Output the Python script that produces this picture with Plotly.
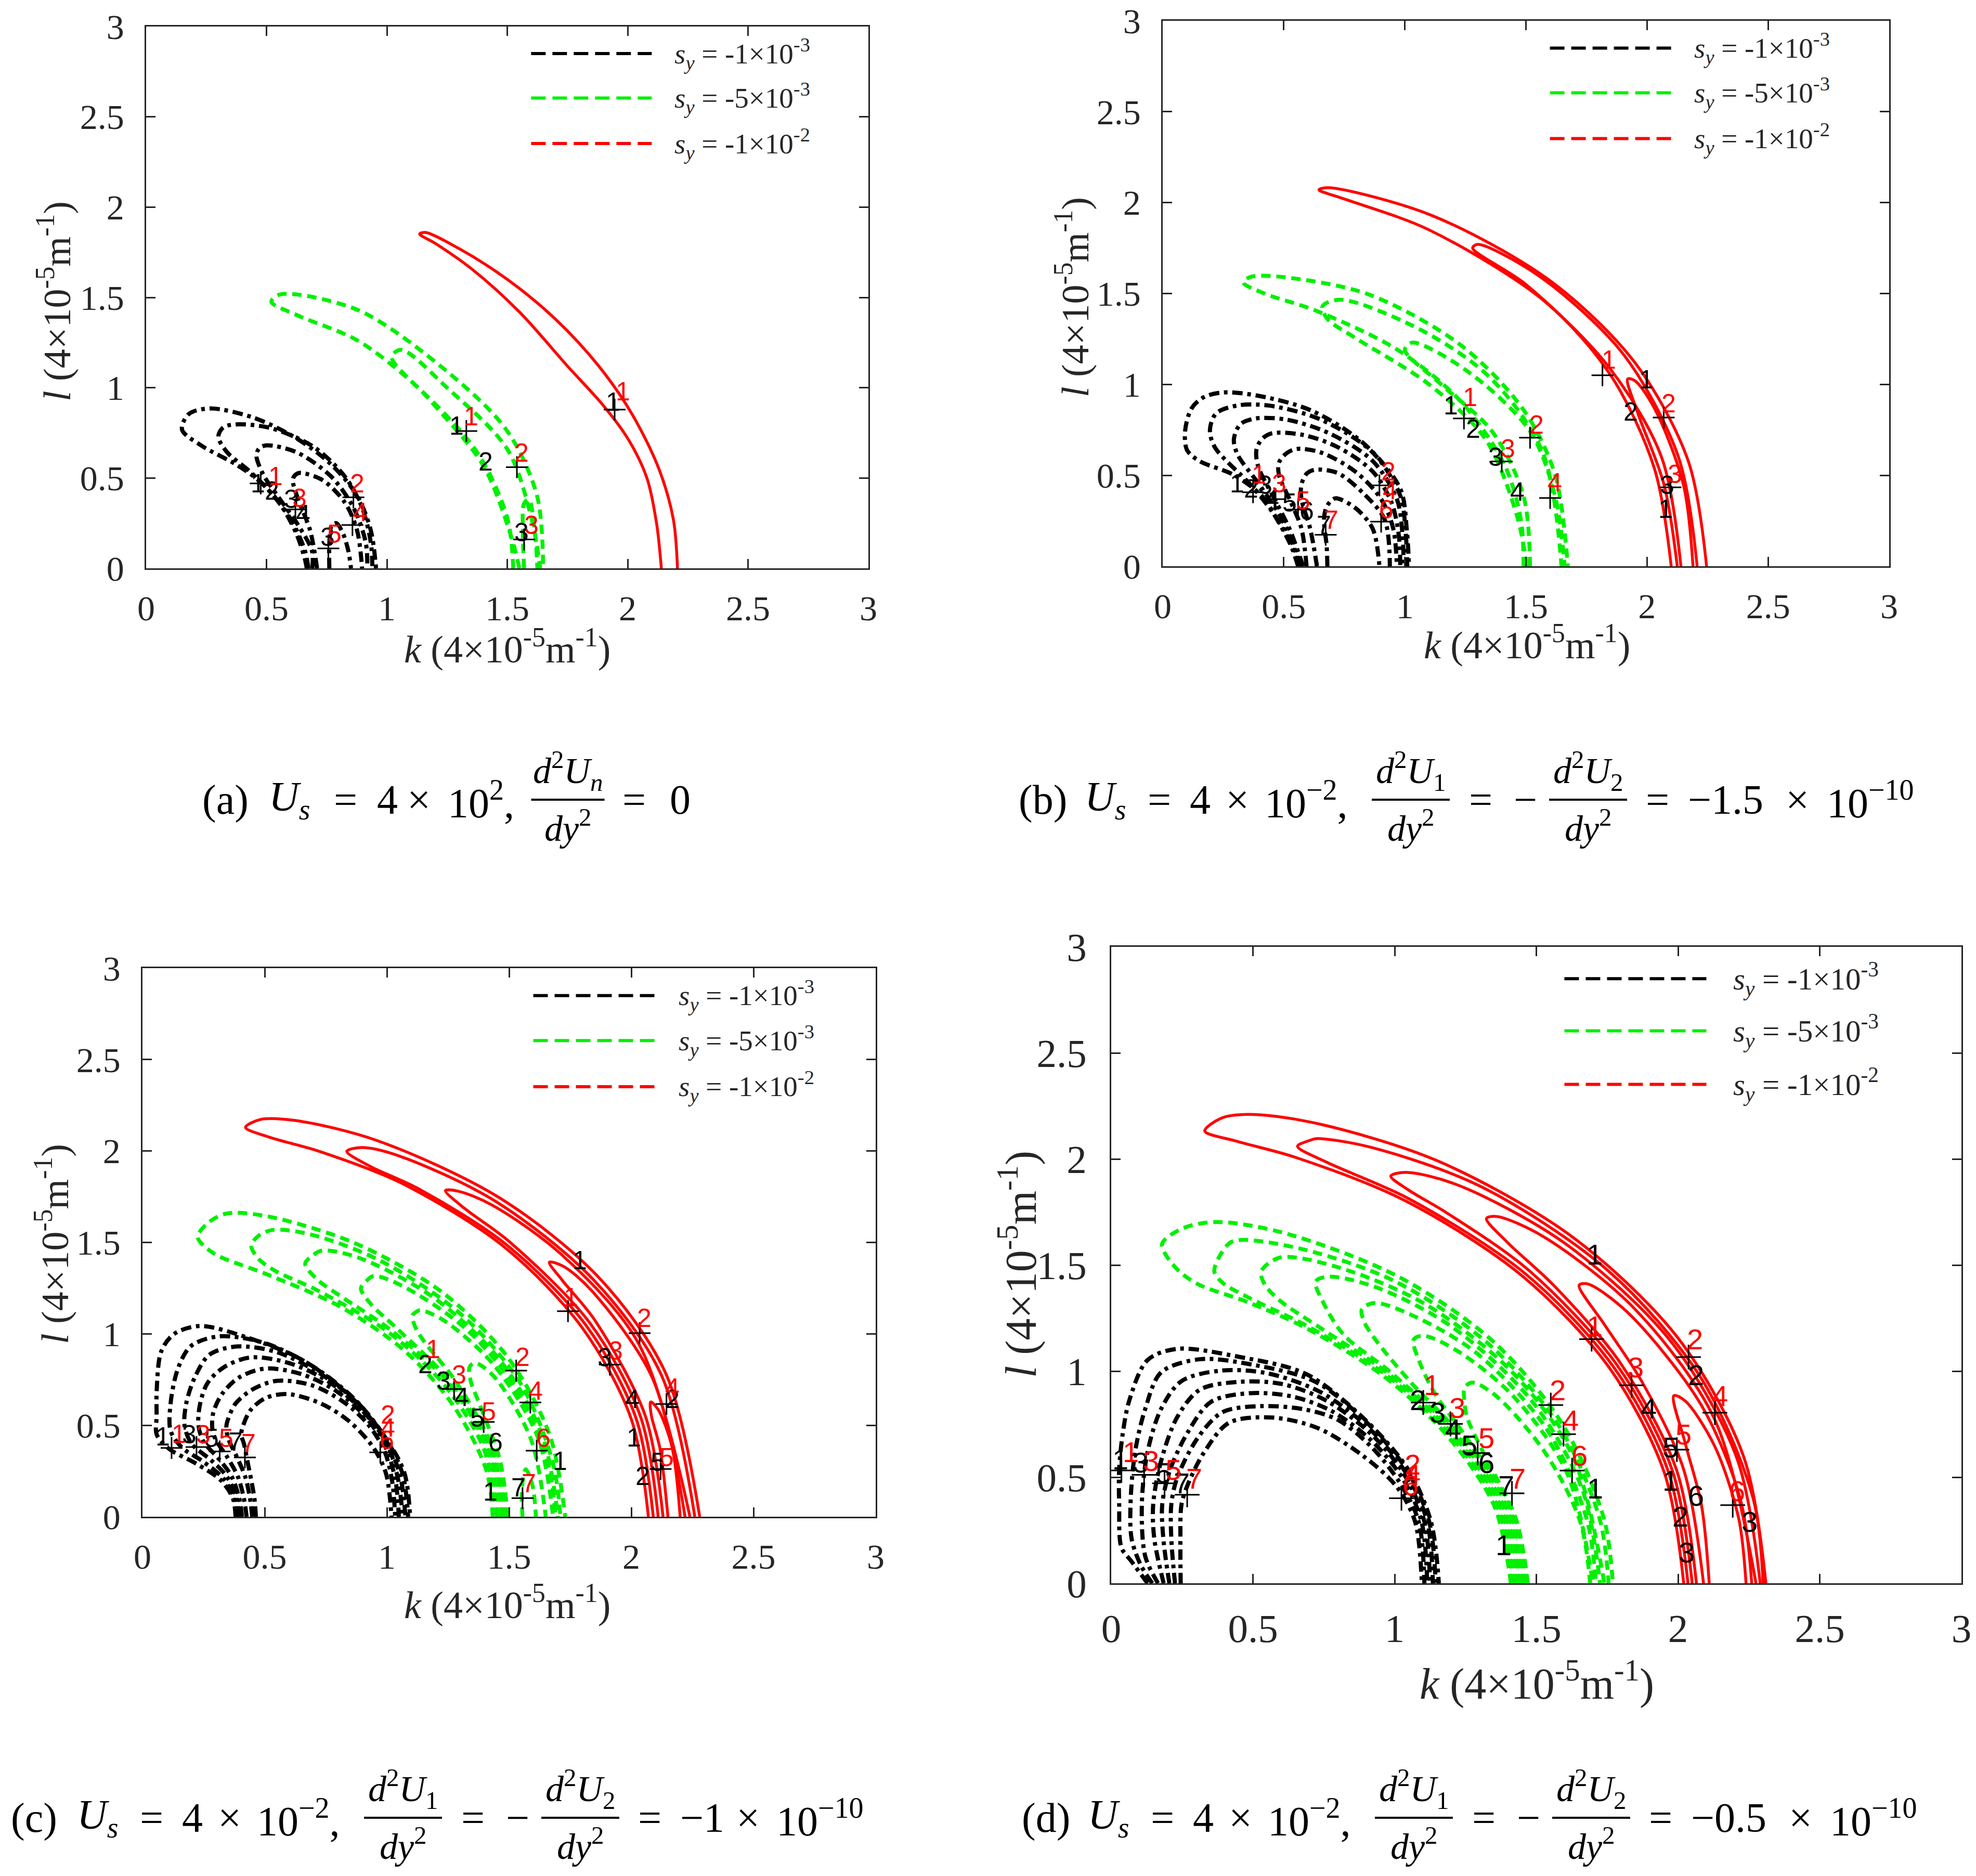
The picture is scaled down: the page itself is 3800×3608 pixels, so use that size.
import numpy as np
import plotly.graph_objects as go

W, H = 3800, 3608

# ---------------- data ----------------
# Panel (a): cartesian loops (k, l)
a_black_k = [
    [0.667, 0.66, 0.624, 0.552, 0.465, 0.372, 0.228, 0.149, 0.177, 0.264, 0.444, 0.624, 0.768, 0.876, 0.933, 0.955],
    [0.674, 0.66, 0.602, 0.516, 0.43, 0.336, 0.30, 0.32, 0.372, 0.516, 0.696, 0.825, 0.897, 0.933, 0.94],
    [0.69, 0.689, 0.631, 0.545, 0.487, 0.458, 0.47, 0.501, 0.624, 0.768, 0.861, 0.912, 0.919],
    [0.71, 0.681, 0.631, 0.609, 0.618, 0.638, 0.732, 0.825, 0.876, 0.897],
    [0.761, 0.761, 0.77, 0.79, 0.818, 0.84, 0.851],
]
a_black_l = [
    [0, 0.048, 0.192, 0.365, 0.489, 0.576, 0.681, 0.768, 0.854, 0.885, 0.835, 0.72, 0.576, 0.403, 0.211, 0],
    [0, 0.096, 0.269, 0.422, 0.537, 0.643, 0.729, 0.78, 0.797, 0.777, 0.672, 0.509, 0.336, 0.144, 0],
    [0, 0.096, 0.24, 0.403, 0.518, 0.624, 0.665, 0.681, 0.643, 0.509, 0.336, 0.144, 0],
    [0, 0.211, 0.384, 0.489, 0.515, 0.528, 0.489, 0.365, 0.211, 0],
    [0, 0.134, 0.235, 0.25, 0.192, 0.096, 0],
]
a_green_k = [
    [1.525, 1.5, 1.376, 1.13, 0.88, 0.63, 0.52, 0.558, 0.88, 1.25, 1.5, 1.624, 1.649],
    [1.55, 1.52, 1.4, 1.18, 1.02, 1.06, 1.25, 1.5, 1.6, 1.637],
    [1.57, 1.565, 1.57, 1.59, 1.615, 1.625],
]
a_green_l = [
    [0, 0.28, 0.64, 1.0, 1.26, 1.40, 1.476, 1.517, 1.43, 1.09, 0.76, 0.4, 0],
    [0, 0.16, 0.57, 0.93, 1.17, 1.21, 1.0, 0.66, 0.28, 0],
    [0, 0.2, 0.36, 0.38, 0.2, 0],
]
a_red_k = [[2.14, 2.12, 2.08, 2.0, 1.9, 1.75, 1.55, 1.35, 1.2, 1.136, 1.16, 1.3, 1.5, 1.7, 1.88, 2.02, 2.13, 2.19, 2.207]]
a_red_l = [[0, 0.25, 0.5, 0.72, 0.9, 1.12, 1.42, 1.66, 1.8, 1.851, 1.86, 1.77, 1.6, 1.38, 1.12, 0.85, 0.55, 0.27, 0]]

# Panel (b)
b_black_k = [
    [0.559, 0.53, 0.473, 0.408, 0.294, 0.151, 0.10, 0.093, 0.12, 0.17, 0.25, 0.401, 0.616, 0.831, 0.981, 1.008, 1.017],
    [0.566, 0.53, 0.451, 0.365, 0.215, 0.195, 0.22, 0.308, 0.437, 0.652, 0.867, 0.981, 1.003, 1.01],
    [0.573, 0.494, 0.401, 0.308, 0.294, 0.32, 0.38, 0.509, 0.688, 0.867, 0.967, 0.99, 0.995],
    [0.58, 0.523, 0.466, 0.394, 0.387, 0.41, 0.451, 0.58, 0.723, 0.867, 0.945, 0.975, 0.981],
    [0.594, 0.573, 0.53, 0.48, 0.48, 0.51, 0.552, 0.652, 0.795, 0.902, 0.952, 0.967],
    [0.637, 0.609, 0.573, 0.573, 0.595, 0.63, 0.723, 0.831, 0.917, 0.938],
    [0.68, 0.677, 0.666, 0.675, 0.695, 0.716, 0.795, 0.867, 0.895],
]
b_black_l = [
    [0, 0.112, 0.255, 0.388, 0.502, 0.579, 0.64, 0.75, 0.87, 0.93, 0.956, 0.936, 0.855, 0.674, 0.426, 0.2, 0],
    [0, 0.131, 0.302, 0.445, 0.655, 0.75, 0.84, 0.884, 0.884, 0.807, 0.626, 0.388, 0.19, 0],
    [0, 0.255, 0.445, 0.617, 0.70, 0.78, 0.812, 0.807, 0.731, 0.579, 0.369, 0.18, 0],
    [0, 0.207, 0.359, 0.55, 0.64, 0.70, 0.731, 0.722, 0.655, 0.521, 0.35, 0.17, 0],
    [0, 0.207, 0.35, 0.502, 0.57, 0.62, 0.645, 0.626, 0.521, 0.369, 0.207, 0],
    [0, 0.207, 0.369, 0.45, 0.51, 0.531, 0.512, 0.398, 0.255, 0],
    [0, 0.112, 0.255, 0.321, 0.36, 0.374, 0.321, 0.207, 0],
]
b_green_k = [
    [1.49, 1.48, 1.413, 1.23, 0.97, 0.632, 0.42, 0.333, 0.36, 0.45, 0.84, 1.23, 1.49, 1.62, 1.673],
    [1.504, 1.465, 1.335, 1.1, 0.79, 0.68, 0.66, 0.736, 1.08, 1.36, 1.57, 1.647],
    [1.517, 1.49, 1.36, 1.15, 1.0, 1.03, 1.257, 1.517, 1.62, 1.66],
]
b_green_l = [
    [0, 0.25, 0.553, 0.908, 1.19, 1.406, 1.50, 1.56, 1.59, 1.596, 1.5, 1.217, 0.86, 0.505, 0],
    [0, 0.268, 0.695, 1.0, 1.26, 1.36, 1.43, 1.466, 1.29, 1.027, 0.624, 0],
    [0, 0.387, 0.742, 1.0, 1.19, 1.23, 1.074, 0.742, 0.387, 0],
]
b_red_k = [
    [2.1, 2.03, 1.85, 1.58, 1.1, 0.75, 0.645, 0.684, 1.11, 1.6, 1.95, 2.17, 2.246],
    [2.14, 2.06, 1.84, 1.5, 1.28, 1.3, 1.55, 1.9, 2.13, 2.207],
    [2.125, 2.07, 1.96, 1.92, 1.95, 2.03, 2.15, 2.19],
]
b_red_l = [
    [0, 0.54, 1.05, 1.454, 1.85, 2.02, 2.07, 2.082, 1.93, 1.57, 1.12, 0.58, 0],
    [0, 0.6, 1.1, 1.55, 1.75, 1.77, 1.6, 1.17, 0.6, 0],
    [0, 0.45, 0.85, 1.03, 1.02, 0.87, 0.45, 0],
]

# Panel (c)
c_black_k = [
    [0.381, 0.37, 0.32, 0.22, 0.11, 0.058, 0.058, 0.058, 0.077, 0.13, 0.236, 0.426, 0.654, 0.844, 0.996, 1.072, 1.095],
    [0.388, 0.376, 0.33, 0.25, 0.16, 0.115, 0.115, 0.145, 0.198, 0.312, 0.5, 0.7, 0.87, 1.0, 1.065, 1.087],
    [0.396, 0.385, 0.345, 0.28, 0.2, 0.172, 0.179, 0.214, 0.274, 0.388, 0.55, 0.73, 0.89, 1.0, 1.055, 1.076],
    [0.407, 0.396, 0.365, 0.31, 0.25, 0.229, 0.236, 0.267, 0.335, 0.441, 0.6, 0.76, 0.9, 1.0, 1.045, 1.065],
    [0.426, 0.415, 0.39, 0.345, 0.30, 0.286, 0.29, 0.328, 0.396, 0.502, 0.65, 0.79, 0.91, 0.995, 1.035, 1.049],
    [0.449, 0.44, 0.42, 0.385, 0.35, 0.343, 0.35, 0.381, 0.449, 0.548, 0.69, 0.82, 0.92, 0.99, 1.022, 1.034],
    [0.464, 0.458, 0.445, 0.43, 0.415, 0.404, 0.411, 0.441, 0.502, 0.593, 0.73, 0.844, 0.943, 0.996, 1.019],
]
c_black_l = [
    [0, 0.1, 0.2, 0.29, 0.37, 0.45, 0.55, 0.686, 0.905, 1.0, 1.043, 0.981, 0.857, 0.667, 0.429, 0.238, 0],
    [0, 0.1, 0.21, 0.3, 0.38, 0.47, 0.619, 0.81, 0.933, 0.986, 0.95, 0.82, 0.64, 0.42, 0.23, 0],
    [0, 0.1, 0.22, 0.31, 0.4, 0.5, 0.619, 0.762, 0.886, 0.931, 0.9, 0.78, 0.61, 0.41, 0.22, 0],
    [0, 0.1, 0.22, 0.32, 0.41, 0.5, 0.619, 0.733, 0.819, 0.871, 0.84, 0.74, 0.58, 0.4, 0.21, 0],
    [0, 0.1, 0.22, 0.33, 0.42, 0.48, 0.571, 0.676, 0.762, 0.81, 0.78, 0.69, 0.55, 0.38, 0.2, 0],
    [0, 0.1, 0.22, 0.33, 0.43, 0.49, 0.533, 0.619, 0.695, 0.743, 0.72, 0.63, 0.51, 0.36, 0.19, 0],
    [0, 0.1, 0.2, 0.3, 0.4, 0.448, 0.495, 0.581, 0.648, 0.671, 0.619, 0.524, 0.381, 0.238, 0],
]
# polar loops: angle (deg) and radius
c_green_t = [
    [0, 10, 25, 40, 55, 69, 78.6, 81.6, 80.5, 78.3, 73, 60, 45, 30, 15, 0],
    [0, 15, 30, 45, 60, 68, 71.5, 73.3, 72.8, 71.2, 66, 55, 40, 25, 10, 0],
    [0, 15, 30, 45, 55, 61, 64.3, 64, 63.2, 58, 45, 30, 15, 0],
    [0, 15, 30, 45, 51, 54.4, 54.6, 54.3, 50, 38, 25, 10, 0],
    [0, 15, 30, 40, 43, 44.9, 45, 44.8, 41, 30, 15, 0],
    [0, 12, 24, 29, 31.5, 31.7, 28, 15, 0],
    [0, 5, 8.6, 9.4, 6, 0],
]
c_green_r = [
    [1.433, 1.43, 1.41, 1.405, 1.405, 1.42, 1.47, 1.546, 1.63, 1.693, 1.72, 1.73, 1.735, 1.73, 1.725, 1.73],
    [1.45, 1.445, 1.43, 1.425, 1.43, 1.45, 1.49, 1.549, 1.61, 1.657, 1.69, 1.705, 1.71, 1.71, 1.705, 1.71],
    [1.465, 1.46, 1.45, 1.44, 1.45, 1.48, 1.535, 1.59, 1.631, 1.67, 1.69, 1.695, 1.695, 1.70],
    [1.475, 1.47, 1.46, 1.465, 1.49, 1.535, 1.58, 1.621, 1.65, 1.675, 1.68, 1.685, 1.69],
    [1.485, 1.48, 1.48, 1.5, 1.525, 1.56, 1.585, 1.603, 1.635, 1.66, 1.675, 1.68],
    [1.495, 1.495, 1.51, 1.535, 1.57, 1.6, 1.63, 1.645, 1.65],
    [1.555, 1.558, 1.578, 1.59, 1.605, 1.61],
]
c_red_t = [
    [0, 15, 30, 45, 60, 70, 76, 78.8, 77.5, 74, 65, 50, 35, 20, 0],
    [0, 15, 30, 45, 58, 64, 67.3, 66, 62, 50, 35, 20, 0],
    [0, 15, 30, 45, 52, 55.2, 54, 50, 40, 25, 0],
    [0, 15, 30, 37, 39.9, 38.5, 34, 20, 0],
    [0, 10, 15, 16.8, 15.5, 10, 0],
]
c_red_r = [
    [2.07, 2.07, 2.075, 2.09, 2.11, 2.125, 2.14, 2.17, 2.225, 2.255, 2.27, 2.275, 2.28, 2.28, 2.28],
    [2.09, 2.09, 2.095, 2.105, 2.12, 2.13, 2.166, 2.21, 2.235, 2.25, 2.255, 2.26, 2.26],
    [2.11, 2.11, 2.115, 2.125, 2.14, 2.172, 2.2, 2.225, 2.235, 2.24, 2.24],
    [2.13, 2.13, 2.14, 2.15, 2.17, 2.2, 2.215, 2.22, 2.22],
    [2.15, 2.15, 2.155, 2.172, 2.19, 2.2, 2.2],
]

# Panel (d)
d_black_k = [
    [0.128, 0.072, 0.036, 0.028, 0.028, 0.04, 0.064, 0.128, 0.232, 0.448, 0.688, 0.888, 1.048, 1.128, 1.156],
    [0.145, 0.104, 0.072, 0.068, 0.084, 0.12, 0.176, 0.312, 0.5, 0.72, 0.9, 1.045, 1.122, 1.145],
    [0.165, 0.12, 0.108, 0.128, 0.176, 0.248, 0.384, 0.55, 0.74, 0.91, 1.04, 1.115, 1.135],
    [0.185, 0.152, 0.148, 0.176, 0.232, 0.312, 0.448, 0.6, 0.76, 0.92, 1.035, 1.105, 1.125],
    [0.205, 0.184, 0.18, 0.208, 0.272, 0.352, 0.488, 0.64, 0.78, 0.92, 1.03, 1.095, 1.115],
    [0.225, 0.212, 0.212, 0.232, 0.304, 0.392, 0.528, 0.68, 0.80, 0.92, 1.02, 1.085, 1.105],
    [0.245, 0.244, 0.248, 0.272, 0.328, 0.416, 0.568, 0.728, 0.888, 1.008, 1.072, 1.096],
]
d_black_l = [
    [0, 0.102, 0.168, 0.372, 0.536, 0.7, 0.863, 1.052, 1.105, 1.068, 0.986, 0.781, 0.536, 0.291, 0],
    [0, 0.086, 0.209, 0.372, 0.618, 0.822, 0.994, 1.056, 1.03, 0.95, 0.76, 0.53, 0.29, 0],
    [0, 0.127, 0.372, 0.618, 0.822, 0.953, 1.002, 0.99, 0.9, 0.73, 0.52, 0.29, 0],
    [0, 0.209, 0.372, 0.577, 0.781, 0.912, 0.949, 0.94, 0.86, 0.70, 0.51, 0.29, 0],
    [0, 0.209, 0.372, 0.536, 0.716, 0.855, 0.896, 0.88, 0.81, 0.67, 0.49, 0.29, 0],
    [0, 0.209, 0.372, 0.495, 0.683, 0.806, 0.835, 0.82, 0.77, 0.64, 0.47, 0.29, 0],
    [0, 0.209, 0.372, 0.471, 0.618, 0.757, 0.781, 0.732, 0.601, 0.454, 0.291, 0],
]
d_green_t = [
    [0, 15, 30, 45, 60, 70, 78, 81.5, 83.6, 81.5, 77.8, 70, 55, 40, 25, 10, 0],
    [0, 15, 30, 45, 60, 70, 74.5, 76.1, 76, 75.1, 68, 55, 40, 25, 10, 0],
    [0, 15, 30, 45, 58, 66, 69, 70.2, 68.8, 62, 50, 35, 20, 0],
    [0, 15, 30, 45, 55, 60.5, 63.1, 62, 56, 45, 30, 15, 0],
    [0, 15, 30, 42, 50, 54, 55.6, 54.9, 50, 40, 25, 10, 0],
    [0, 15, 30, 38, 44, 47.1, 46.7, 42, 32, 18, 0],
    [0, 12, 25, 32, 35, 36.5, 36.6, 33, 22, 10, 0],
]
d_green_r = [
    [1.41, 1.40, 1.375, 1.37, 1.385, 1.41, 1.445, 1.51, 1.609, 1.69, 1.742, 1.76, 1.765, 1.765, 1.76, 1.765, 1.77],
    [1.42, 1.41, 1.385, 1.38, 1.395, 1.43, 1.47, 1.514, 1.6, 1.668, 1.71, 1.74, 1.745, 1.745, 1.75, 1.755],
    [1.43, 1.42, 1.395, 1.39, 1.41, 1.46, 1.51, 1.563, 1.647, 1.69, 1.72, 1.73, 1.735, 1.74],
    [1.44, 1.43, 1.405, 1.40, 1.43, 1.52, 1.595, 1.637, 1.68, 1.705, 1.715, 1.72, 1.725],
    [1.45, 1.44, 1.415, 1.42, 1.47, 1.52, 1.565, 1.615, 1.65, 1.685, 1.70, 1.705, 1.71],
    [1.46, 1.45, 1.43, 1.45, 1.51, 1.567, 1.604, 1.64, 1.67, 1.69, 1.70],
    [1.47, 1.46, 1.45, 1.48, 1.52, 1.551, 1.587, 1.62, 1.65, 1.68, 1.69],
]
d_red_t = [
    [0, 15, 30, 45, 60, 72, 78, 81.2, 80, 77.7, 72, 60, 45, 30, 15, 0],
    [0, 15, 30, 45, 60, 69, 72.3, 71.5, 70.9, 66, 55, 40, 25, 10, 0],
    [0, 15, 30, 45, 56, 60.5, 62.8, 61.8, 57, 45, 30, 15, 0],
    [0, 15, 30, 42, 49, 52.4, 51.8, 47, 35, 20, 0],
    [0, 15, 27, 35, 40.4, 40, 35, 22, 10, 0],
    [0, 10, 18, 24, 23, 17, 8, 0],
]
d_red_r = [
    [2.02, 2.02, 2.03, 2.05, 2.08, 2.11, 2.13, 2.157, 2.225, 2.262, 2.285, 2.3, 2.305, 2.31, 2.31, 2.31],
    [2.035, 2.035, 2.045, 2.065, 2.095, 2.125, 2.162, 2.2, 2.218, 2.25, 2.28, 2.29, 2.295, 2.3, 2.30],
    [2.05, 2.05, 2.06, 2.085, 2.11, 2.13, 2.158, 2.198, 2.24, 2.265, 2.28, 2.285, 2.29],
    [2.065, 2.065, 2.075, 2.1, 2.13, 2.17, 2.2, 2.235, 2.255, 2.265, 2.275],
    [2.09, 2.09, 2.1, 2.125, 2.168, 2.195, 2.225, 2.245, 2.255, 2.26],
    [2.11, 2.115, 2.13, 2.173, 2.2, 2.225, 2.235, 2.24],
]

# contour labels: text, k, l
a_lab_black = (["1", "2", "3", "4", "3", "1", "2", "3", "1"],
               [0.465, 0.523, 0.602, 0.653, 0.753, 1.29, 1.41, 1.56, 1.94],
               [0.47, 0.43, 0.384, 0.298, 0.173, 0.79, 0.59, 0.2, 0.92])
a_lab_red = (["1", "2", "3", "4", "5", "1", "2", "3", "1"],
             [0.537, 0.876, 0.638, 0.89, 0.782, 1.35, 1.56, 1.6, 1.98],
             [0.51, 0.47, 0.39, 0.31, 0.19, 0.84, 0.64, 0.24, 0.98])
a_plus = ([0.476, 0.861, 0.62, 0.857, 0.757, 1.33, 1.54, 1.57, 1.946],
          [0.47, 0.393, 0.326, 0.24, 0.11, 0.76, 0.56, 0.16, 0.879])

b_lab_black = (["1", "2", "3", "4", "5", "6", "7", "1", "2", "3", "4", "1", "2", "3", "1"],
               [0.308, 0.365, 0.423, 0.451, 0.523, 0.594, 0.666, 1.19, 1.283, 1.374, 1.465, 1.998, 1.933, 2.084, 2.077],
               [0.455, 0.426, 0.445, 0.369, 0.35, 0.302, 0.226, 0.885, 0.754, 0.6, 0.41, 1.027, 0.849, 0.446, 0.315])
b_lab_red = (["1", "3", "5", "7", "2", "4", "6", "1", "2", "3", "4", "1", "2", "3"],
             [0.398, 0.48, 0.58, 0.695, 0.931, 0.938, 0.924, 1.27, 1.543, 1.426, 1.62, 1.842, 2.09, 2.115],
             [0.502, 0.455, 0.359, 0.255, 0.521, 0.417, 0.312, 0.93, 0.778, 0.647, 0.46, 1.134, 0.896, 0.505])
b_plus = ([0.373, 0.466, 0.559, 0.673, 0.902, 0.895, 1.244, 1.517, 1.4, 1.6, 1.816, 2.069, 2.097],
          [0.407, 0.369, 0.312, 0.173, 0.245, 0.445, 0.813, 0.707, 0.576, 0.375, 1.05, 0.818, 0.434])

c_lab_black = (["1", "3", "5", "7", "2", "3", "4", "5", "6", "1", "1", "7", "1", "3", "4", "2", "1", "5", "2"],
               [0.084, 0.191, 0.282, 0.38, 1.158, 1.232, 1.306, 1.37, 1.444, 1.708, 1.423, 1.539, 1.79, 1.892, 2.005, 2.169, 2.01, 2.108, 2.046],
               [0.438, 0.448, 0.429, 0.41, 0.833, 0.743, 0.653, 0.54, 0.406, 0.304, 0.136, 0.158, 1.402, 0.87, 0.642, 0.642, 0.431, 0.299, 0.223])
c_lab_red = (["1", "3", "5", "7", "2", "4", "6", "1", "2", "3", "4", "5", "6", "7", "1", "2", "3", "4", "5"],
             [0.149, 0.248, 0.343, 0.434, 1.004, 1.004, 1.0, 1.19, 1.555, 1.296, 1.608, 1.417, 1.64, 1.581, 1.753, 2.054, 1.936, 2.169, 2.144],
             [0.452, 0.448, 0.429, 0.4, 0.557, 0.486, 0.419, 0.917, 0.872, 0.776, 0.687, 0.574, 0.428, 0.181, 1.2, 1.085, 0.908, 0.705, 0.325])
c_plus = ([0.119, 0.221, 0.316, 0.419, 0.973, 1.529, 1.275, 1.587, 1.396, 1.613, 1.555, 1.741, 2.034, 1.912, 2.144, 2.12],
          [0.376, 0.381, 0.357, 0.324, 0.352, 0.799, 0.698, 0.625, 0.518, 0.361, 0.102, 1.124, 1.004, 0.832, 0.616, 0.261])

d_lab_black = (["1", "3", "5", "7", "2", "3", "4", "5", "6", "7", "1", "1", "1", "2", "4", "5", "1", "6", "2", "3", "3"],
               [0.032, 0.104, 0.184, 0.248, 1.081, 1.152, 1.207, 1.263, 1.323, 1.394, 1.707, 1.384, 1.706, 2.063, 1.896, 1.974, 1.974, 2.063, 2.008, 2.253, 2.03],
               [0.585, 0.569, 0.52, 0.471, 0.864, 0.804, 0.727, 0.65, 0.567, 0.46, 0.448, 0.181, 1.551, 0.981, 0.824, 0.642, 0.485, 0.412, 0.315, 0.291, 0.145])
d_lab_red = (["1", "3", "5", "7", "2", "4", "6", "1", "3", "5", "7", "2", "4", "6", "1", "2", "3", "4", "5", "6"],
             [0.068, 0.14, 0.22, 0.292, 1.064, 1.064, 1.056, 1.131, 1.222, 1.323, 1.434, 1.576, 1.621, 1.652, 1.706, 2.059, 1.851, 2.148, 2.019, 2.208],
             [0.618, 0.577, 0.536, 0.495, 0.561, 0.511, 0.462, 0.935, 0.828, 0.686, 0.495, 0.911, 0.769, 0.602, 1.212, 1.151, 1.018, 0.884, 0.703, 0.436])
d_plus = ([0.036, 0.116, 0.188, 0.268, 1.024, 1.101, 1.197, 1.293, 1.414, 1.551, 1.596, 1.626, 1.695, 2.037, 1.836, 2.13, 1.996, 2.193],
          [0.532, 0.511, 0.471, 0.417, 0.401, 0.852, 0.751, 0.614, 0.424, 0.84, 0.703, 0.531, 1.151, 1.066, 0.933, 0.804, 0.63, 0.368])

legend_labels = ["<i>s</i><sub><i>y</i></sub> = -1×10<sup>-3</sup>",
                 "<i>s</i><sub><i>y</i></sub> = -5×10<sup>-3</sup>",
                 "<i>s</i><sub><i>y</i></sub> = -1×10<sup>-2</sup>"]
tick_vals = [0, 0.5, 1, 1.5, 2, 2.5, 3]
tick_text = ["0", "0.5", "1", "1.5", "2", "2.5", "3"]

# ---------------- styles / layout ----------------
BLACK = "#000000"
GREEN = "#00f000"
RED = "#ff0000"
AXC = "#262626"
SERIF = "Liberation Serif"
SANS = "Liberation Sans"

STY = {
    "black": dict(color=BLACK, width=8, dash="20px,9px,7px,9px"),
    "green": dict(color=GREEN, width=7.5, dash="18px,11px"),
    "red": dict(color=RED, width=5.5, dash="solid"),
}


def px2x(p):
    return p / W


def px2y(p):
    return 1 - p / H


panels = [
    dict(name="a", x=(281, 1670), y=(51, 1093), fs=1.0,
         black=(a_black_k, a_black_l), green=(a_green_k, a_green_l), red=(a_red_k, a_red_l),
         polar_green=None, polar_red=None,
         lab_b=a_lab_black, lab_r=a_lab_red, plus=a_plus,
         xt=(976, 1244), yt=(104, 580)),
    dict(name="b", x=(2236, 3633), y=(40, 1089), fs=1.0,
         black=(b_black_k, b_black_l), green=(b_green_k, b_green_l), red=(b_red_k, b_red_l),
         polar_green=None, polar_red=None,
         lab_b=b_lab_black, lab_r=b_lab_red, plus=b_plus,
         xt=(2936, 1235), yt=(2062, 572)),
    dict(name="c", x=(274, 1684), y=(1862, 2917), fs=1.0,
         black=(c_black_k, c_black_l), green=None, red=None,
         polar_green=(c_green_t, c_green_r), polar_red=(c_red_t, c_red_r),
         lab_b=c_lab_black, lab_r=c_lab_red, plus=c_plus,
         xt=(976, 3081), yt=(100, 2393)),
    dict(name="d", x=(2137, 3772), y=(1821, 3045), fs=1.13,
         black=(d_black_k, d_black_l), green=None, red=None,
         polar_green=(d_green_t, d_green_r), polar_red=(d_red_t, d_red_r),
         lab_b=d_lab_black, lab_r=d_lab_red, plus=d_plus,
         xt=(2955, 3233), yt=(1958, 2432)),
]

fig = go.Figure()
annotations = []
shapes = []


def add_loops(ks, ls, style, xa, ya):
    for k, l in zip(ks, ls):
        fig.add_trace(go.Scatter(x=k, y=l, mode="lines", line=dict(shape="spline", smoothing=0.9, **STY[style]),
                                 xaxis=xa, yaxis=ya, showlegend=False, hoverinfo="skip"))


def add_polar(ts, rs, style, xa, ya):
    ks, ls = [], []
    for t, r in zip(ts, rs):
        th = np.radians(np.array(t, dtype=float))
        rr = np.array(r, dtype=float)
        ks.append(rr * np.cos(th))
        ls.append(rr * np.sin(th))
    add_loops(ks, ls, style, xa, ya)


for i, p in enumerate(panels):
    n = "" if i == 0 else str(i + 1)
    xa, ya = "x" + n, "y" + n
    fs = p["fs"]
    tickfont = dict(family=SERIF, size=round(68 * fs), color=AXC)
    common = dict(range=[0, 3], tickvals=tick_vals, ticktext=tick_text, showline=True, linecolor=AXC,
                  linewidth=2.5, mirror="ticks", ticks="inside", ticklen=18, tickwidth=2.5, tickcolor=AXC,
                  showgrid=False, zeroline=False, tickfont=tickfont, fixedrange=True,
                  ticklabeloverflow="allow")
    fig.layout["xaxis" + n] = dict(domain=[px2x(p["x"][0]), px2x(p["x"][1])], anchor=ya,
                                   ticklabelstandoff=int(16 * fs), **common)
    fig.layout["yaxis" + n] = dict(domain=[px2y(p["y"][1]), px2y(p["y"][0])], anchor=xa,
                                   ticklabelstandoff=int(26 * fs), **common)

    if p["black"]:
        add_loops(*p["black"], "black", xa, ya)
    if p["green"]:
        add_loops(*p["green"], "green", xa, ya)
    if p["polar_green"]:
        add_polar(*p["polar_green"], "green", xa, ya)
    if p["red"]:
        add_loops(*p["red"], "red", xa, ya)
    if p["polar_red"]:
        add_polar(*p["polar_red"], "red", xa, ya)

    # plus markers of contour labels
    fig.add_trace(go.Scatter(x=p["plus"][0], y=p["plus"][1], mode="markers",
                             marker=dict(symbol="cross-thin", size=round(30 * fs), line=dict(width=3, color=BLACK)),
                             xaxis=xa, yaxis=ya, showlegend=False, hoverinfo="skip"))
    for (txts, ks, ls), col in ((p["lab_b"], BLACK), (p["lab_r"], RED)):
        for t, k, l in zip(txts, ks, ls):
            annotations.append(dict(x=k, y=l, xref=xa, yref=ya, text=t, showarrow=False,
                                    xanchor="center", yanchor="middle",
                                    font=dict(family=SANS, size=round(50 * fs), color=col)))

    # manual legend
    for j, (col, lab) in enumerate(zip([BLACK, GREEN, RED], legend_labels)):
        yy = [0.950, 0.868, 0.784][j]
        shapes.append(dict(type="line", xref=xa + " domain", yref=ya + " domain", x0=0.533, x1=0.700,
                           y0=yy, y1=yy, line=dict(color=col, width=6, dash="28px,13px")))
        annotations.append(dict(x=0.730, y=yy, xref=xa + " domain", yref=ya + " domain", text=lab,
                                showarrow=False, xanchor="left", yanchor="middle",
                                font=dict(family=SERIF, size=round(55 * (1.0 if fs == 1.0 else 1.08)), color=AXC)))

    # axis titles
    annotations.append(dict(x=px2x(p["xt"][0]), y=px2y(p["xt"][1]), xref="paper", yref="paper",
                            text="<i>k</i> (4×10<sup>-5</sup>m<sup>-1</sup>)", showarrow=False,
                            xanchor="center", yanchor="middle",
                            font=dict(family=SERIF, size=round(74 * fs), color=AXC)))
    annotations.append(dict(x=px2x(p["yt"][0]), y=px2y(p["yt"][1]), xref="paper", yref="paper",
                            text="<i>l</i> (4×10<sup>-5</sup>m<sup>-1</sup>)", showarrow=False, textangle=-90,
                            xanchor="center", yanchor="middle",
                            font=dict(family=SERIF, size=round(74 * fs), color=AXC)))

# ---------------- captions ----------------
US = "<i>U</i><sub><i>s</i></sub>"
D2U1 = "<i>d</i><sup>2</sup><i>U</i><sub>1</sub>"
D2U2 = "<i>d</i><sup>2</sup><i>U</i><sub>2</sub>"
D2UN = "<i>d</i><sup>2</sup><i>U</i><sub><i>n</i></sub>"
DY2 = "<i>dy</i><sup>2</sup>"


def caption_b_like(x0, label, val_parts):
    # offsets (px) measured on the reference caption (b)
    segs = [(x0, label), (x0 + 127, US), (x0 + 248, "="), (x0 + 329, "4"), (x0 + 398, "×"),
            (x0 + 473, "10<sup>−2</sup>,"), (x0 + 866, "="), (x0 + 952, "−"), (x0 + 1206, "=")]
    segs += [(x0 + off, t) for off, t in val_parts]
    fracs = [(x0 + 756, 150, D2U1, DY2), (x0 + 1097, 150, D2U2, DY2)]
    return segs, fracs


cap_b = caption_b_like(1957, "(b)", [(1287, "−1.5"), (1475, "×"), (1554, "10<sup>−10</sup>")])
cap_c = caption_b_like(19, "(c)", [(1287, "−1"), (1395, "×"), (1472, "10<sup>−10</sup>")])
cap_d = caption_b_like(1963, "(d)", [(1287, "−0.5"), (1475, "×"), (1554, "10<sup>−10</sup>")])
cap_a = ([(387, "(a)"), (515, US), (640, "="), (723, "4"), (781, "×"), (859, "10<sup>2</sup>,"),
          (1195, "="), (1286, "0")],
         [(1092, 141, D2UN, DY2)])

captions = [(cap_a, 1538), (cap_b, 1538), (cap_c, 3496), (cap_d, 3496)]
CAP_FS = 80
FRAC_FS = 70
for (segs, fracs), yrow in captions:
    for xpos, txt in segs:
        annotations.append(dict(x=px2x(xpos), y=px2y(yrow), xref="paper", yref="paper", text=txt,
                                showarrow=False, xanchor="left", yanchor="middle",
                                font=dict(family=SERIF, size=CAP_FS, color="black")))
    for xc, wd, num, den in fracs:
        annotations.append(dict(x=px2x(xc), y=px2y(yrow - 4), xref="paper", yref="paper", text=num,
                                showarrow=False, xanchor="center", yanchor="bottom",
                                font=dict(family=SERIF, size=FRAC_FS, color="black")))
        annotations.append(dict(x=px2x(xc), y=px2y(yrow + 4), xref="paper", yref="paper", text=den,
                                showarrow=False, xanchor="center", yanchor="top",
                                font=dict(family=SERIF, size=FRAC_FS, color="black")))
        shapes.append(dict(type="line", xref="paper", yref="paper", x0=px2x(xc - wd / 2), x1=px2x(xc + wd / 2),
                           y0=px2y(yrow), y1=px2y(yrow), line=dict(color="black", width=4)))

fig.update_layout(width=W, height=H, margin=dict(l=0, r=0, t=0, b=0, pad=0, autoexpand=False),
                  paper_bgcolor="white", plot_bgcolor="white", annotations=annotations, shapes=shapes,
                  showlegend=False)
fig.write_html("out.html", config={"displayModeBar": False},
               post_script="document.body.style.margin='0px';document.body.style.padding='0px';"
                           "document.body.style.overflow='hidden';")
